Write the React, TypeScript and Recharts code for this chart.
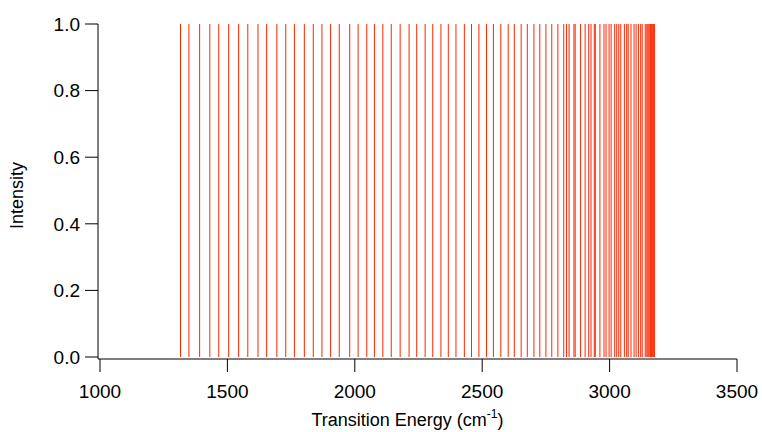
import React from 'react';
import { LineChart, Line, XAxis, YAxis, Label } from 'recharts';

// Transition energies (cm^-1)
const energies: number[] = [
  1316, 1349, 1391, 1431, 1466, 1505, 1544, 1580, 1620, 1654,
  1694, 1729, 1763, 1802, 1837, 1871, 1905, 1939, 1980, 2013,
  2047, 2077, 2110, 2143, 2178, 2213, 2243, 2276, 2306, 2338,
  2367, 2397, 2430, 2458, 2487, 2517, 2544, 2573, 2602, 2626,
  2653, 2677, 2703, 2726, 2750, 2773, 2797, 2820, 2831, 2841,
  2860, 2865, 2886, 2904, 2918, 2927, 2940, 2944, 2962, 2978,
  2986, 2998, 3006, 3020, 3028, 3036, 3044, 3058, 3067, 3073,
  3084, 3096, 3104, 3113, 3122, 3128, 3140, 3146, 3150, 3154,
  3158, 3161, 3164, 3167, 3170, 3173, 3176,
];
// Every stick has unit intensity
const intensities: number[] = energies.map(() => 1);

const xTicks: number[] = [1000, 1500, 2000, 2500, 3000, 3500];
const yTicks: number[] = [0, 0.2, 0.4, 0.6, 0.8, 1.0];

// Stick spectrum table: baseline point, peak point, then a gap (null) to break the path
const stickData: { x: number; y: number | null }[] = [];
energies.forEach((e, i) => {
  stickData.push({ x: e, y: 0 });
  stickData.push({ x: e, y: intensities[i] });
  stickData.push({ x: e, y: null });
});

const FONT = '"Liberation Sans", Arial, Helvetica, sans-serif';
const RED = '#ff2600';

export default function App() {
  return (
    <div style={{ position: 'absolute', left: 0, top: 0, width: 762, height: 432, background: '#fff' }}>
      <LineChart
        width={762}
        height={432}
        data={stickData}
        margin={{ top: 24, right: 25, bottom: 0, left: 0 }}
      >
        <XAxis
          type="number"
          dataKey="x"
          domain={[992.15, 3500]}
          allowDataOverflow
          ticks={xTicks}
          interval={0}
          height={73}
          tickSize={13}
          tickMargin={13}
          stroke="#000"
          axisLine={{ stroke: '#000', strokeWidth: 1 }}
          tickLine={{ stroke: '#000', strokeWidth: 1 }}
          tick={{ fill: '#000', fontSize: 19, fontFamily: FONT }}
        >
          <Label
            content={({ viewBox }: any) => {
              const cx = viewBox.x + viewBox.width / 2 - 10;
              return (
                <text x={cx} y={426} textAnchor="middle" fill="#000" fontSize={18} fontFamily={FONT}>
                  Transition Energy (cm
                  <tspan fontSize={12} dy={-8}>-1</tspan>
                  <tspan dy={8}>)</tspan>
                </text>
              );
            }}
          />
        </XAxis>
        <YAxis
          type="number"
          domain={[-0.006, 1]}
          allowDataOverflow
          ticks={yTicks}
          interval={0}
          width={98}
          tickSize={13}
          tickMargin={5}
          tickFormatter={(v: number) => v.toFixed(1)}
          stroke="#000"
          axisLine={{ stroke: '#000', strokeWidth: 1 }}
          tickLine={{ stroke: '#000', strokeWidth: 1 }}
          tick={{ fill: '#000', fontSize: 19, fontFamily: FONT }}
        >
          <Label
            content={({ viewBox }: any) => {
              const cy = viewBox.y + viewBox.height / 2 + 4;
              const x = 23;
              return (
                <text
                  x={x}
                  y={cy}
                  transform={`rotate(-90 ${x} ${cy})`}
                  textAnchor="middle"
                  fill="#000"
                  fontSize={18}
                  fontFamily={FONT}
                >
                  Intensity
                </text>
              );
            }}
          />
        </YAxis>
        <Line
          type="linear"
          dataKey="y"
          stroke={RED}
          strokeWidth={1}
          dot={false}
          activeDot={false}
          connectNulls={false}
          isAnimationActive={false}
        />
      </LineChart>
    </div>
  );
}
